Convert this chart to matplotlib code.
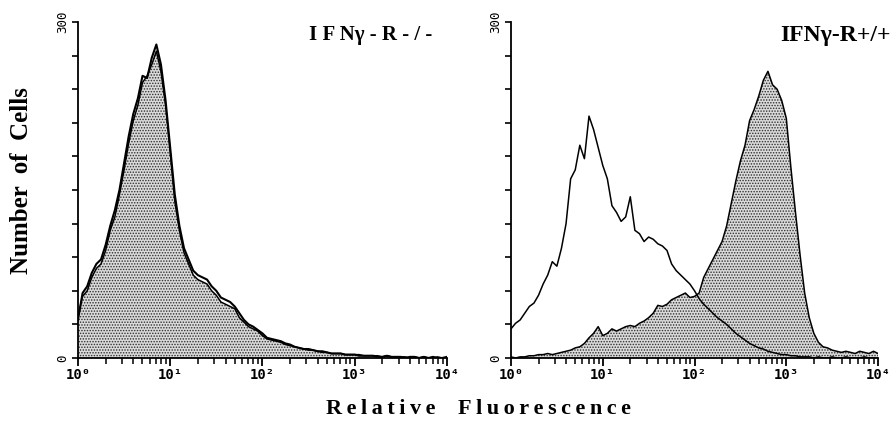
import numpy as np
import matplotlib
matplotlib.use("Agg")
import matplotlib.pyplot as plt
from matplotlib.ticker import FixedLocator, FixedFormatter, LogLocator, NullFormatter

plt.rcParams['hatch.color'] = '#2e2e2e'
plt.rcParams['hatch.linewidth'] = 0.7

# channel centres, 0.05 decade apart, from 10^0 to 10^4
fluor = np.logspace(0, 4, 81)

# IFNg-R -/- : stained (filled) and control (open) histograms
ko_stained = [37, 55, 60, 72, 80, 84, 96, 114, 126, 146,
              168, 192, 212, 226, 246, 252, 262, 274, 256, 226,
              184, 140, 114, 94, 84, 74, 70, 68, 66, 60,
              56, 50, 48, 46, 44, 36, 32, 28, 26, 24,
              20, 17, 16, 15, 14, 12, 11, 10, 9, 8,
              7, 7, 6, 5, 5, 4, 4, 4, 3, 3,
              3, 3, 2, 2, 2, 2, 1, 2, 1, 1,
              1, 1, 0, 1, 0, 1, 0, 0, 1, 0, 0]
ko_control = [34, 58, 64, 76, 84, 88, 101, 118, 132, 150,
              174, 198, 218, 232, 252, 250, 268, 280, 262, 230,
              188, 146, 118, 98, 88, 78, 74, 72, 70, 64,
              60, 54, 52, 50, 46, 40, 34, 30, 28, 25,
              22, 18, 17, 16, 15, 13, 12, 10, 9, 8,
              8, 7, 6, 6, 5, 4, 4, 4, 3, 3,
              3, 2, 2, 2, 2, 1, 1, 2, 1, 1,
              1, 0, 1, 1, 0, 1, 0, 1, 0, 0, 1]

# IFNg-R +/+ : stained (filled) and control (open) histograms
wt_stained = [1, 0, 1, 1, 2, 2, 3, 3, 4, 3,
              4, 5, 6, 7, 9, 10, 13, 18, 22, 28,
              20, 22, 26, 24, 26, 28, 29, 28, 31, 33,
              36, 40, 47, 46, 48, 52, 54, 56, 58, 54,
              55, 58, 72, 80, 88, 96, 104, 118, 138, 158,
              176, 190, 212, 222, 234, 248, 256, 244, 240, 230,
              214, 170, 130, 92, 58, 36, 22, 14, 10, 9,
              7, 6, 5, 6, 5, 4, 6, 5, 4, 6, 4]
wt_control = [26, 31, 34, 40, 46, 49, 56, 66, 74, 86,
              82, 98, 120, 160, 168, 190, 178, 216, 204, 188,
              172, 160, 136, 130, 122, 126, 144, 114, 111, 104,
              108, 106, 102, 100, 96, 84, 78, 74, 70, 66,
              60, 53, 48, 44, 40, 36, 33, 30, 26, 22,
              19, 16, 13, 11, 9, 8, 6, 5, 4, 3,
              3, 2, 2, 1, 1, 1, 0, 1, 0, 0,
              1, 0, 0, 1, 0, 0, 0, 1, 0, 0, 0]

titles = ["I F N\u03b3 - R - / -", "IFN\u03b3-R+/+"]
decade_labels = ["10\u2070", "10\u00b9", "10\u00b2", "10\u00b3", "10\u2074"]
xlabel = "\u2009".join("Relative") + "    " + "\u2009".join("Fluorescence")

fig = plt.figure(figsize=(8.91, 4.22), dpi=100)
ax1 = fig.add_axes([0.0875, 0.1517, 0.414, 0.796])
ax2 = fig.add_axes([0.5735, 0.1517, 0.412, 0.796])

panels = [(ax1, ko_stained, ko_control, 1.5), (ax2, wt_stained, wt_control, 1.1)]

for i, (ax, filled, opened, lw) in enumerate(panels):
    ax.fill_between(fluor, 0, filled, facecolor='#dadada',
                    hatch='......', linewidth=0)
    ax.plot(fluor, filled, color='black', lw=1.1)
    ax.plot(fluor, opened, color='black', lw=lw)

    ax.set_xscale('log')
    ax.set_xlim(1, 1e4)
    ax.set_ylim(0, 300)
    for s in ['top', 'right']:
        ax.spines[s].set_visible(False)
    ax.spines['left'].set_linewidth(1.3)
    ax.spines['bottom'].set_linewidth(1.3)

    ax.xaxis.set_major_locator(FixedLocator([1, 10, 100, 1000, 10000]))
    ax.xaxis.set_major_formatter(FixedFormatter(decade_labels))
    ax.xaxis.set_minor_locator(LogLocator(base=10, subs=np.arange(2, 10)))
    ax.xaxis.set_minor_formatter(NullFormatter())
    ax.tick_params(axis='x', which='major', length=6, width=1.3, direction='out', pad=1)
    ax.tick_params(axis='x', which='minor', length=4, width=1.1, direction='out')

    yt = list(range(0, 301, 30))
    ax.yaxis.set_major_locator(FixedLocator(yt))
    ax.yaxis.set_major_formatter(FixedFormatter(["0"] + [""] * 9 + ["300"]))
    ax.tick_params(axis='y', length=4, width=1.2, direction='out', pad=2)
    for lab in ax.get_yticklabels():
        lab.set_rotation(90)
        lab.set_va('center')
        lab.set_family('DejaVu Sans Mono')
        lab.set_fontsize(9)
    for lab in ax.get_xticklabels():
        lab.set_family('DejaVu Sans Mono')
        lab.set_fontsize(10)
        lab.set_weight('bold')

    ax.text(1.035 if i == 1 else 0.96, 0.99, titles[i], transform=ax.transAxes,
            ha='right', va='top', family=['Liberation Serif', 'DejaVu Serif'],
            weight='bold', fontsize=15 if i == 0 else 17)

fig.text(0.024, 0.573, "Number  of  Cells", rotation=90, ha='center', va='center',
         family='Liberation Serif', weight='bold', fontsize=18)
fig.text(0.537, 0.03, xlabel, ha='center', va='center',
         family=['Liberation Serif', 'DejaVu Serif'], weight='bold', fontsize=16)

fig.savefig("out.png", dpi=100)
